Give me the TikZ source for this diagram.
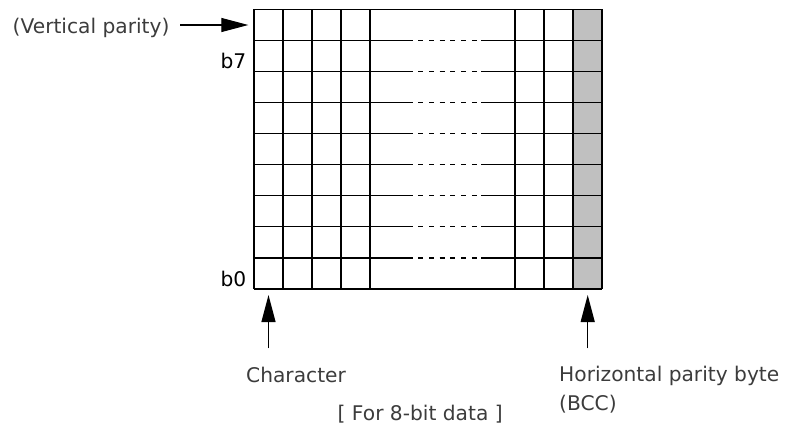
\documentclass[tikz,border=0pt]{standalone}
\usepackage{fontspec}
\setmainfont{DejaVu Sans}
\usetikzlibrary{arrows.meta}
\definecolor{txt}{RGB}{60,60,60}
\definecolor{bcc}{RGB}{192,192,192}
\begin{document}
\begin{tikzpicture}[x=1pt,y=-1pt,
  gridline/.style={line width=1.2pt,black},
  arr/.style={line width=1.1pt,black,-{Triangle[length=27pt,width=14pt]}},
  lbl/.style={inner sep=0pt,text=txt,font=\fontsize{20.2}{24}\selectfont},
  blbl/.style={inner sep=0pt,text=black,font=\fontsize{20.2}{24}\selectfont}]
\useasboundingbox (0,0) rectangle (785,426);
% grid corners
\coordinate (gnw) at (254,9.3);
\coordinate (gse) at (602,289);
% shaded BCC column
\fill[bcc] (573,9.3) rectangle (gse);
% vertical lines
\foreach \x in {254,283,312,341,370,515,544,573,602}
  \draw[gridline] (\x,9.3) -- (\x,289);
% top and bottom
\draw[gridline] (gnw) -- (602,9.3);
\draw[gridline] (254,289) -- (gse);
% inner row lines with dashed gap
\foreach \i in {1,...,8} {
  \pgfmathsetmacro\yy{9.3+31.08*\i}
  \draw[gridline] (254,\yy) -- (412.5,\yy);
  \foreach \k in {0,...,5} {
    \pgfmathsetmacro\xa{418.3+10.7*\k}
    \draw[gridline] (\xa,\yy) -- ++(5,0);
  }
  \draw[gridline] (481,\yy) -- (602,\yy);
}
% labels
\node[lbl,anchor=base west] (vp) at (12.5,33.5) {(Vertical parity)};
\node[blbl,anchor=base east] (b7) at (246.5,68.3) {b7};
\node[blbl,anchor=base east] (b0) at (246.5,286) {b0};
\node[lbl,anchor=base west] (chr) at (246,382.7) {Character};
\node[lbl,anchor=base west] (hpb) at (559,381.7) {Horizontal parity byte};
\node[lbl,anchor=base west] (bcc) at (559,410.7) {(BCC)};
\node[lbl,anchor=base west] (note) at (337.5,420) {[ For 8-bit data ]};
% arrows
\coordinate (vptail) at (180,25);
\coordinate (vptip) at (248.3,25);
\coordinate (chtail) at (268.5,348.3);
\coordinate (chtip) at (268.5,295);
\coordinate (bctail) at (587.7,348.3);
\coordinate (bctip) at (587.7,295);
\draw[arr] (vptail) -- (vptip);
\draw[arr] (chtail) -- (chtip);
\draw[arr] (bctail) -- (bctip);
\end{tikzpicture}
\end{document}
